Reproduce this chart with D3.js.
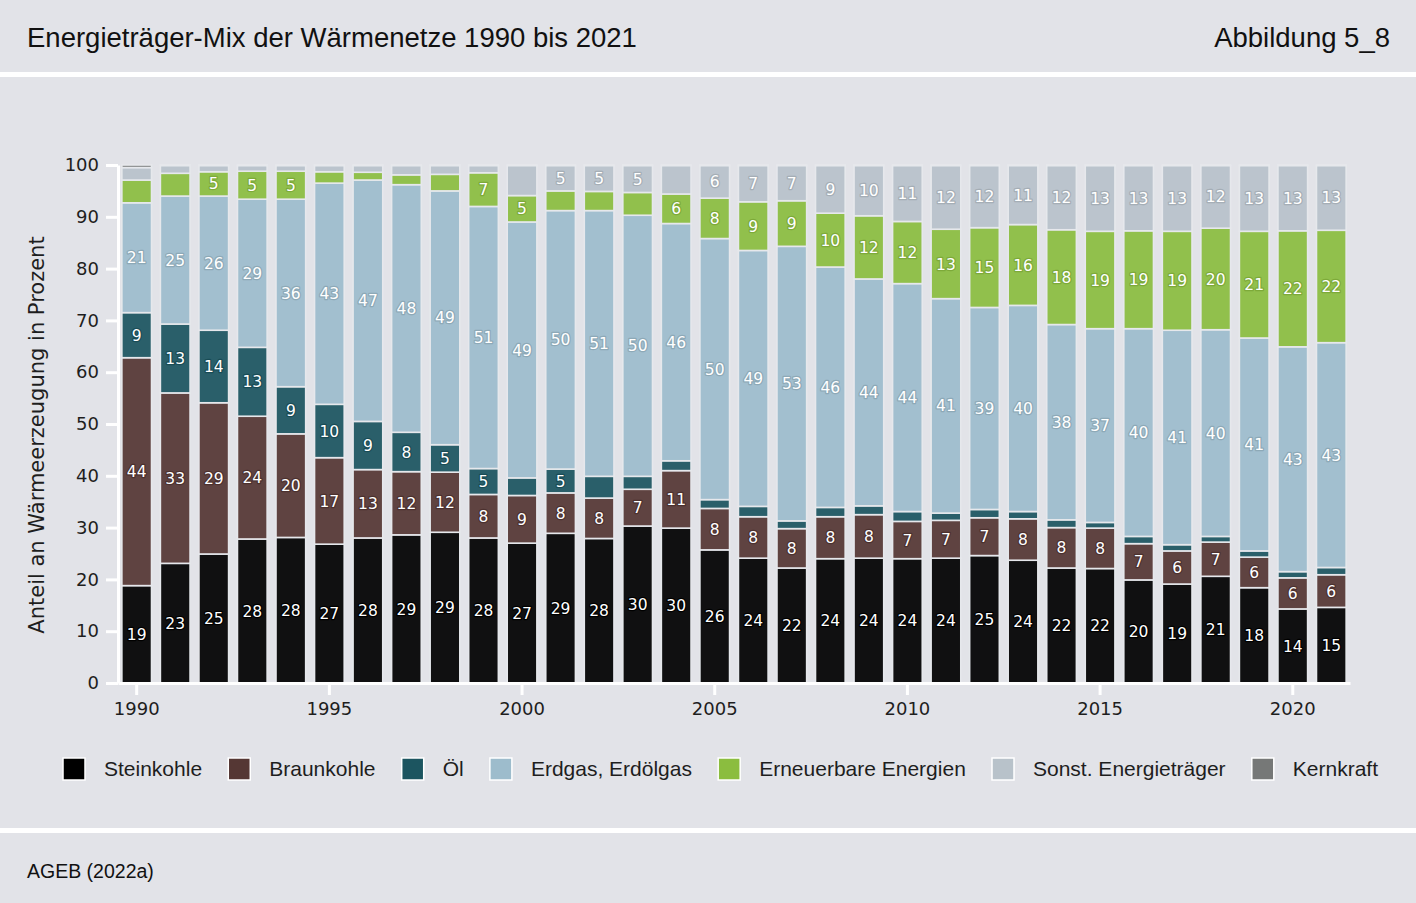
<!DOCTYPE html>
<html>
<head>
<meta charset="utf-8">
<script src="https://cdn.jsdelivr.net/npm/d3@7"></script>
<style>
  body { margin: 0; background: #e2e3e8; }
  svg { display: block; }
</style>
</head>
<body>
<svg></svg>
<script>
const WIDTH = 1416;
const HEIGHT = 903;

// Anteile in Prozent, je Jahr
const years = [1990, 1991, 1992, 1993, 1994, 1995, 1996, 1997, 1998, 1999,
    2000, 2001, 2002, 2003, 2004, 2005, 2006, 2007, 2008, 2009,
    2010, 2011, 2012, 2013, 2014, 2015, 2016, 2017, 2018, 2019, 2020, 2021];

const steinkohle = [18.8, 23.1, 24.9, 27.8, 28.1, 26.8, 28.0, 28.6, 29.1, 28.0,
    27.0, 28.9, 27.9, 30.3, 29.9, 25.7, 24.1, 22.2, 24.0, 24.1,
    24.0, 24.1, 24.6, 23.7, 22.2, 22.1, 19.9, 19.1, 20.6, 18.4, 14.3, 14.6];
const braunkohle = [44.0, 32.9, 29.2, 23.7, 20.0, 16.7, 13.2, 12.2, 11.6, 8.4,
    9.2, 7.8, 7.8, 7.1, 11.1, 8.0, 8.0, 7.6, 8.1, 8.4,
    7.2, 7.3, 7.3, 8.0, 7.8, 7.8, 7.0, 6.4, 6.6, 5.9, 6.0, 6.3];
const oel = [8.7, 13.3, 14.0, 13.3, 9.1, 10.3, 9.3, 7.6, 5.3, 5.0,
    3.4, 4.6, 4.2, 2.5, 1.9, 1.7, 2.0, 1.5, 1.8, 1.7,
    1.9, 1.4, 1.6, 1.4, 1.5, 1.1, 1.4, 1.2, 1.1, 1.2, 1.2, 1.4];
const erdgas = [21.2, 24.7, 25.9, 28.6, 36.2, 42.7, 46.6, 47.8, 49.0, 50.6,
    49.4, 49.9, 51.3, 50.4, 45.8, 50.4, 49.4, 53.0, 46.4, 43.8,
    44.0, 41.4, 39.0, 39.8, 37.7, 37.4, 40.1, 41.4, 39.9, 41.1, 43.4, 43.4];
const erneuerbare = [4.4, 4.4, 4.7, 5.4, 5.4, 2.2, 1.5, 1.9, 3.2, 6.5,
    5.1, 3.8, 3.7, 4.4, 5.7, 7.8, 9.4, 8.8, 10.4, 12.2,
    12.0, 13.4, 15.4, 15.6, 18.3, 18.8, 18.9, 19.1, 19.6, 20.6, 22.4, 21.7];
const sonstige = [2.4, 1.5, 1.2, 1.1, 1.1, 1.2, 1.3, 1.8, 1.7, 1.4,
    5.8, 4.9, 5.0, 5.2, 5.5, 6.3, 7.0, 6.8, 9.2, 9.7,
    10.8, 12.3, 12.0, 11.4, 12.4, 12.7, 12.6, 12.7, 12.1, 12.7, 12.6, 12.5];
const kernkraft = [0.5, 0.1, 0.1, 0.1, 0.1, 0.1, 0.1, 0.1, 0.1, 0.1,
    0.1, 0.1, 0.1, 0.1, 0.1, 0.1, 0.1, 0.1, 0.1, 0.1,
    0.1, 0.1, 0.1, 0.1, 0.1, 0.1, 0.1, 0.1, 0.1, 0.1, 0.1, 0.1];

const seriesNames = ["Steinkohle", "Braunkohle", "Öl", "Erdgas, Erdölgas",
    "Erneuerbare Energien", "Sonst. Energieträger", "Kernkraft"];
const seriesValues = [steinkohle, braunkohle, oel, erdgas, erneuerbare, sonstige, kernkraft];
const seriesColors = ["#000000", "#553734", "#1c5560", "#9dbccc", "#8bbd3f", "#b8c2ca", "#767877"];

const yTicks = [0, 10, 20, 30, 40, 50, 60, 70, 80, 90, 100];
const xTickYears = [1990, 1995, 2000, 2005, 2010, 2015, 2020];

// in der Vorlage ohne Beschriftung
const unlabeled = ["2000|Sonst. Energieträger", "2004|Sonst. Energieträger"];

const TITLE = "Energieträger-Mix der Wärmenetze 1990 bis 2021";
const FIGURE = "Abbildung 5_8";
const SOURCE = "AGEB (2022a)";
const Y_TITLE = "Anteil an Wärmeerzeugung in Prozent";

const BG = "#e2e3e8";
const SANS = "'Liberation Sans', Arial, sans-serif";
const WIDE = "'DejaVu Sans', Verdana, sans-serif";

function buildTable() {
    return years.map((year, i) => {
        const row = { year: year };
        seriesNames.forEach((name, s) => { row[name] = seriesValues[s][i]; });
        return row;
    });
}

function drawFrame(svg) {
    svg.append("rect")
        .attr("width", WIDTH).attr("height", HEIGHT)
        .attr("fill", BG);

    svg.append("rect")
        .attr("x", 0).attr("y", 72)
        .attr("width", WIDTH).attr("height", 5)
        .attr("fill", "#ffffff");

    svg.append("rect")
        .attr("x", 0).attr("y", 828)
        .attr("width", WIDTH).attr("height", 5)
        .attr("fill", "#ffffff");

    svg.append("text")
        .attr("x", 27).attr("y", 47)
        .style("font-family", SANS)
        .style("font-size", "27.5px")
        .attr("fill", "#111111")
        .text(TITLE);

    svg.append("text")
        .attr("x", 1390).attr("y", 47)
        .attr("text-anchor", "end")
        .style("font-family", SANS)
        .style("font-size", "27.5px")
        .attr("fill", "#111111")
        .text(FIGURE);

    svg.append("text")
        .attr("x", 27).attr("y", 878)
        .style("font-family", SANS)
        .style("font-size", "19.5px")
        .attr("fill", "#111111")
        .text(SOURCE);
}

function drawChart(svg) {
    const table = buildTable();

    const x = d3.scaleBand()
        .domain(years)
        .range([118, 1350])
        .paddingInner(0.23)
        .paddingOuter(0.1);

    const y = d3.scaleLinear()
        .domain([0, 100])
        .range([683, 165]);

    const color = d3.scaleOrdinal()
        .domain(seriesNames)
        .range(seriesColors);

    const stacked = d3.stack().keys(seriesNames)(table);

    const layers = svg.append("g")
        .selectAll("g.layer")
        .data(stacked)
        .enter().append("g")
        .attr("class", "layer")
        .attr("fill", d => color(d.key));

    layers.selectAll("rect")
        .data(d => d)
        .enter().append("rect")
        .attr("x", d => x(d.data.year))
        .attr("width", x.bandwidth())
        .attr("y", d => y(d[1]))
        .attr("height", d => y(d[0]) - y(d[1]))
        .attr("fill-opacity", 0.93)
        .attr("stroke", "#e6e8ec")
        .attr("stroke-width", 1.6);

    // Werte in den Segmenten
    const labels = [];
    stacked.forEach(layer => {
        layer.forEach(d => {
            const value = d.data[layer.key];
            if (value < 4.5) return;
            if (unlabeled.includes(d.data.year + "|" + layer.key)) return;
            labels.push({ key: layer.key, year: d.data.year, value: value, mid: (d[0] + d[1]) / 2 });
        });
    });

    svg.append("g")
        .selectAll("text")
        .data(labels)
        .enter().append("text")
        .attr("x", d => x(d.year) + x.bandwidth() / 2)
        .attr("y", d => y(d.mid))
        .attr("dy", "0.36em")
        .attr("text-anchor", "middle")
        .style("font-family", WIDE)
        .style("font-size", "15.5px")
        .style("paint-order", "stroke")
        .attr("stroke", d => d3.color(color(d.key)).darker(0.3))
        .attr("stroke-width", 2.5)
        .attr("stroke-linejoin", "round")
        .attr("fill", "#ffffff")
        .text(d => Math.round(d.value));

    // Achsen
    const yAxis = svg.append("g")
        .attr("transform", "translate(118,0)")
        .call(d3.axisLeft(y).tickValues(yTicks).tickSize(12).tickSizeOuter(0).tickPadding(7));

    const xAxis = svg.append("g")
        .attr("transform", "translate(0,683)")
        .call(d3.axisBottom(x).tickValues(xTickYears).tickSize(12).tickSizeOuter(0).tickPadding(7));

    [yAxis, xAxis].forEach(axis => {
        axis.select(".domain")
            .attr("stroke", "#ffffff")
            .attr("stroke-width", 3);
        axis.selectAll(".tick line")
            .attr("stroke", "#ffffff")
            .attr("stroke-width", 3);
        axis.selectAll(".tick text")
            .attr("fill", "#1e1e1e")
            .style("font-family", WIDE)
            .style("font-size", "18px");
    });

    svg.append("text")
        .attr("transform", "translate(44,435)rotate(-90)")
        .attr("text-anchor", "middle")
        .style("font-family", WIDE)
        .style("font-size", "21px")
        .attr("fill", "#1e1e1e")
        .text(Y_TITLE);
}

function drawLegend(svg) {
    const left = 63, right = 1378, top = 758, box = 22, textGap = 19;

    const items = svg.append("g")
        .selectAll("g.item")
        .data(seriesNames)
        .enter().append("g")
        .attr("class", "item");

    items.append("rect")
        .attr("width", box).attr("height", box)
        .attr("y", top)
        .attr("fill", (d, i) => seriesColors[i])
        .attr("stroke", "#ffffff")
        .attr("stroke-width", 1.5);

    items.append("text")
        .attr("y", top + box / 2)
        .attr("dy", "0.35em")
        .style("font-family", SANS)
        .style("font-size", "21px")
        .attr("fill", "#1e1e1e")
        .text(d => d);

    // gleichmaessig zwischen left und right verteilen
    const widths = [];
    items.select("text").each(function () { widths.push(this.getComputedTextLength()); });
    const used = d3.sum(widths, w => box + textGap + w);
    const gap = (right - left - used) / (seriesNames.length - 1);

    let cursor = left;
    items.each(function (d, i) {
        const item = d3.select(this);
        item.select("rect").attr("x", cursor);
        item.select("text").attr("x", cursor + box + textGap);
        cursor += box + textGap + widths[i] + gap;
    });
}

function onReady() {
    const svg = d3.select("svg")
        .attr("width", WIDTH)
        .attr("height", HEIGHT);

    drawFrame(svg);
    drawChart(svg);
    drawLegend(svg);
}

document.addEventListener("DOMContentLoaded", onReady);
</script>
</body>
</html>
